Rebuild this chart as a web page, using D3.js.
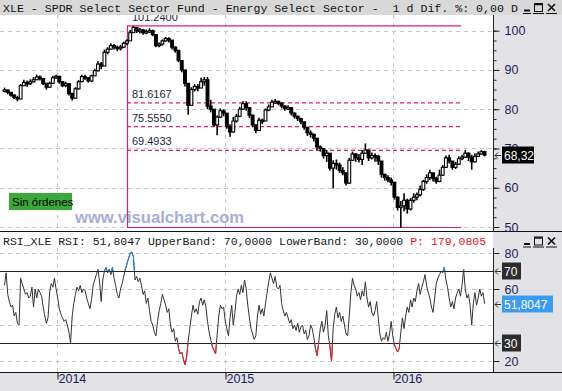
<!DOCTYPE html>
<html>
<head>
<meta charset="utf-8">
<script src="https://cdn.jsdelivr.net/npm/d3@7"></script>
<style>
  body { margin: 0; background: #fff; }
  svg { display: block; }
  svg text { white-space: pre; }
</style>
</head>
<body>
<div id="chart"></div>
<script>
// weekly bars, first week starting 2013-09-09
const firstWeek = "2013-09-09";

const closes = [
  84.9, 84.3, 83.6, 83.0, 82.6, 86.0, 86.8, 86.5, 87.0, 87.5,
  88.2, 87.8, 86.6, 85.6, 86.6, 88.0, 88.4, 87.0, 86.0, 86.5,
  84.0, 82.8, 85.2, 87.0, 88.3, 88.0, 87.2, 88.5, 89.8, 91.5,
  91.0, 94.5, 95.3, 96.2, 95.8, 95.4, 95.8, 96.8, 97.4, 99.5,
  100.8, 100.0, 100.2, 99.5, 99.8, 100.0, 99.0, 96.2, 96.6, 97.4,
  98.0, 97.6, 95.8, 95.0, 92.4, 90.0, 86.6, 81.0, 85.0, 85.8,
  85.4, 87.0, 87.5, 80.8, 80.0, 76.0, 78.0, 79.6, 79.0, 75.6,
  74.2, 77.0, 78.2, 80.0, 81.4, 80.4, 78.5, 76.0, 74.6, 77.2,
  77.0, 79.8, 80.6, 81.8, 82.0, 81.5, 80.8, 80.2, 80.4, 79.0,
  78.2, 77.6, 76.8, 75.4, 74.0, 73.6, 72.6, 70.4, 70.0, 68.2,
  68.8, 65.0, 66.2, 65.8, 64.4, 63.8, 61.2, 67.0, 68.6, 67.6,
  67.2, 68.8, 69.6, 67.6, 68.2, 68.0, 66.8, 63.4, 62.6, 62.0,
  61.4, 57.6, 55.0, 55.4, 56.8, 54.6, 56.8, 57.6, 58.2, 59.6,
  61.6, 62.6, 63.8, 62.4, 61.6, 63.2, 65.2, 67.6, 66.8, 65.2,
  66.0, 67.4, 67.8, 68.8, 67.8, 66.6, 68.0, 68.6, 69.2, 68.32
];

const highs = [
  85.5, 85.0, 84.3, 83.8, 83.4, 86.4, 87.5, 87.3, 87.6, 88.2,
  88.8, 88.6, 87.6, 86.5, 87.0, 88.5, 88.8, 88.2, 87.2, 87.0,
  86.2, 84.2, 85.6, 87.4, 88.8, 88.8, 88.2, 88.8, 90.3, 92.2,
  92.0, 95.2, 95.8, 96.8, 96.6, 96.2, 96.4, 97.2, 97.8, 100.2,
  101.24, 101.0, 100.7, 100.4, 100.3, 100.6, 100.3, 97.8, 97.0, 97.8,
  98.4, 98.3, 97.2, 96.0, 93.8, 92.0, 89.0, 85.0, 85.6, 86.4,
  86.4, 88.0, 88.2, 88.2, 82.4, 80.0, 78.4, 80.2, 80.0, 78.6,
  76.2, 78.0, 78.8, 80.6, 82.0, 82.0, 80.4, 78.6, 76.2, 77.8,
  77.6, 80.2, 81.2, 82.4, 82.6, 82.2, 81.8, 81.0, 81.0, 80.2,
  79.2, 78.4, 77.8, 76.4, 75.2, 74.6, 73.8, 71.6, 70.8, 70.0,
  69.6, 68.6, 67.0, 67.2, 66.4, 65.2, 63.0, 67.6, 69.2, 68.8,
  68.6, 69.6, 71.3, 69.8, 69.0, 68.8, 68.4, 64.2, 63.6, 63.2,
  62.6, 60.6, 57.8, 56.6, 58.6, 57.2, 57.4, 58.6, 58.8, 60.6,
  62.0, 63.4, 64.6, 63.6, 62.8, 64.6, 65.8, 68.2, 68.4, 66.8,
  66.6, 68.0, 68.4, 69.6, 69.0, 68.4, 68.8, 69.2, 69.6, 69.4
];

const lows = [
  84.3, 83.8, 83.2, 82.6, 82.0, 82.8, 86.0, 85.7, 86.2, 86.8,
  87.5, 87.3, 86.2, 85.0, 85.4, 86.8, 87.7, 86.5, 85.6, 85.6,
  83.5, 82.2, 83.0, 85.0, 87.0, 87.5, 86.8, 87.0, 88.6, 89.6,
  90.2, 91.2, 94.0, 95.2, 95.2, 94.8, 95.0, 95.6, 96.3, 97.5,
  99.6, 99.4, 99.3, 99.0, 99.1, 99.4, 98.6, 95.8, 95.8, 96.2,
  97.2, 97.0, 95.2, 94.4, 92.0, 89.4, 85.8, 78.6, 81.5, 84.5,
  84.6, 85.6, 86.0, 80.0, 79.2, 75.6, 73.4, 77.8, 78.2, 75.0,
  73.0, 74.0, 76.6, 78.0, 79.8, 79.6, 77.8, 75.4, 73.9, 75.8,
  76.2, 77.4, 79.5, 81.0, 81.4, 81.0, 80.2, 79.6, 79.8, 78.4,
  77.6, 77.0, 76.2, 74.8, 73.2, 72.8, 71.8, 69.6, 69.2, 67.4,
  66.6, 64.4, 59.8, 64.6, 63.8, 63.2, 60.6, 61.0, 66.8, 66.6,
  66.4, 65.8, 68.6, 66.8, 67.2, 66.6, 65.8, 62.6, 61.8, 61.4,
  60.6, 57.0, 54.2, 49.87, 54.0, 53.4, 54.2, 56.2, 56.8, 57.8,
  59.2, 61.0, 62.0, 61.6, 61.0, 61.4, 63.0, 65.0, 66.2, 64.6,
  64.8, 65.8, 67.0, 67.6, 66.8, 64.6, 66.4, 67.8, 68.4, 68.0
];

// RSI read twice a week (every 3.5 days) from the same start
const rsiValues = [
  62, 69, 57, 53, 50, 51, 45, 47, 41, 40,
  66, 63, 60, 57, 58, 55, 56, 61, 50, 60,
  55, 60, 58, 56, 50, 45, 41, 44, 58, 63,
  61, 66, 60, 55, 49, 46, 44, 42, 43, 40,
  36, 30, 45, 52, 57, 61, 59, 62, 58, 60,
  59, 55, 52, 49, 54, 62, 65, 68, 71, 64,
  53, 65, 70, 72, 69, 71, 68, 72, 66, 62,
  57, 55, 60, 63, 67, 71, 74, 77, 80, 80.5,
  78, 65, 67, 64, 66, 62, 57, 59, 52, 55,
  48, 42, 40, 36, 34, 42, 48, 52, 57, 54,
  51, 47, 49, 40, 36, 38, 31, 33, 27, 24,
  25, 21, 18, 22, 31, 38, 45, 51, 47, 49,
  46, 53, 55, 51, 54, 50, 42, 36, 32, 28,
  26, 24, 35, 45, 51, 49, 50, 42, 38, 34,
  44, 51, 40, 47, 56, 60, 57, 62, 58, 65,
  60, 51, 44, 38, 35, 32, 34, 45, 51, 46,
  49, 45, 52, 58, 64, 69, 66, 63, 67, 61,
  60, 62, 52, 48, 45, 47, 44, 41, 43, 38,
  40, 37, 41, 36, 39, 40, 35, 37, 32, 34,
  40, 38, 33, 27, 23, 30, 38, 42, 36, 40,
  48, 34, 28, 20, 38, 46, 50, 44, 47, 42,
  45, 40, 35, 34, 45, 58, 66, 62, 60, 56,
  58, 54, 59, 56, 64, 55, 50, 53, 47, 45,
  48, 53, 44, 35, 31, 33, 32, 36, 31, 35,
  42, 34, 29, 27, 25, 27, 36, 44, 38, 45,
  50, 47, 54, 50, 55, 53, 59, 63, 57, 61,
  64, 68, 62, 58, 55, 50, 47, 55, 63, 66,
  68, 70, 69, 72, 65, 61, 55, 50, 53, 49,
  55, 58, 60, 56, 62, 71, 60, 55, 57, 51,
  40, 52, 58, 51, 55, 60, 56, 58, 51.8047
];

const fibHigh = 101.24;
const fibLow = 49.87;
const fibRatios = [0.382, 0.5, 0.618];
const fibFrom = "2014-06-02";
const fibTo = "2016-05-28";

const priceTicks = [50, 60, 70, 80, 90, 100];
const rsiGridTicks = [20, 40, 60, 80];
const rsiLabelTicks = [20, 60, 80];
const rsiBands = [30, 70];

const titleText = "XLE - SPDR Select Sector Fund - Energy Select Sector -  1 d Dif. %: 0,00 D";
const rsiHeader = "RSI_XLE RSI: 51,8047 UpperBand: 70,0000 LowerBand: 30,0000 ";
const rsiHeaderP = "P: 179,0805";

const W = 562, H = 391;
const plotW = 493;
const mainTop = 15, mainBottom = 231;
const rsiHeadTop = 232, rsiTop = 248, rsiBottom = 372;

const navy = "#1c1c58";
const pink = "#e8177c";
const gridColor = "#c6c6d0";
const sans = "'Liberation Sans', Arial, sans-serif";
const mono = "'Liberation Mono', 'Courier New', monospace";

const parse = d3.timeParse("%Y-%m-%d");
const start = parse(firstWeek);

const bars = closes.map((c, i) => ({
  date: d3.timeDay.offset(start, 7 * i),
  open: i ? closes[i - 1] : c,
  close: c,
  high: highs[i],
  low: lows[i]
}));
const rsiData = rsiValues.map((v, j) => ({ date: d3.timeHour.offset(start, 84 * j), v }));

const x = d3.scaleTime()
  .domain([new Date(2014, 0, 1), new Date(2016, 0, 1)])
  .range([57, 393]);
const yP = d3.scaleLinear().domain([50, 100]).range([227, 30.7]);
const yR = d3.scaleLinear().domain([30, 70]).range([343, 271]);

const svg = d3.select("#chart").append("svg")
  .attr("width", W).attr("height", H);

// backgrounds
svg.append("rect").attr("width", W).attr("height", H).attr("fill", "#e3e3e7");
svg.append("rect").attr("x", 0).attr("y", mainTop).attr("width", plotW).attr("height", mainBottom - mainTop).attr("fill", "#fff");
svg.append("rect").attr("x", 0).attr("y", rsiHeadTop).attr("width", plotW).attr("height", rsiBottom - rsiHeadTop).attr("fill", "#fff");

const defs = svg.append("defs");
defs.append("clipPath").attr("id", "clipMain").append("rect")
  .attr("x", 0).attr("y", mainTop).attr("width", plotW).attr("height", mainBottom - mainTop);
defs.append("clipPath").attr("id", "clipRsi").append("rect")
  .attr("x", 0).attr("y", rsiTop).attr("width", plotW).attr("height", rsiBottom - rsiTop);
defs.append("clipPath").attr("id", "clipHigh").append("rect")
  .attr("x", 0).attr("y", rsiTop - 10).attr("width", plotW).attr("height", yR(70) - rsiTop + 10);
defs.append("clipPath").attr("id", "clipLow").append("rect")
  .attr("x", 0).attr("y", yR(30)).attr("width", plotW).attr("height", rsiBottom - yR(30));

const years = x.ticks(d3.timeYear.every(1));

// ---------- main price panel ----------
const gMain = svg.append("g").attr("clip-path", "url(#clipMain)");

gMain.selectAll("line.hgrid").data(priceTicks).join("line")
  .attr("x1", 0).attr("x2", plotW)
  .attr("y1", d => Math.round(yP(d)) + 0.5).attr("y2", d => Math.round(yP(d)) + 0.5)
  .attr("stroke", gridColor).attr("stroke-dasharray", "4,4");
gMain.selectAll("line.vgrid").data(years).join("line")
  .attr("x1", d => Math.round(x(d)) + 0.5).attr("x2", d => Math.round(x(d)) + 0.5)
  .attr("y1", mainTop).attr("y2", mainBottom)
  .attr("stroke", gridColor).attr("stroke-dasharray", "4,4");

// watermark + order status
gMain.append("text").attr("x", 75).attr("y", 223)
  .attr("font-family", sans).attr("font-weight", "bold").attr("font-size", 16.6)
  .attr("fill", "#a6aed8").text("www.visualchart.com");
gMain.append("rect").attr("x", 9).attr("y", 193).attr("width", 63).attr("height", 17)
  .attr("fill", "#3aa83a");
gMain.append("text").attr("x", 12).attr("y", 205.5)
  .attr("font-family", sans).attr("font-size", 11.5).attr("fill", "#000").text("Sin órdenes");

// fibonacci retracement
const fx0 = x(parse(fibFrom)), fx1 = x(parse(fibTo));
const fibLevels = fibRatios.map(r => fibHigh - r * (fibHigh - fibLow));
gMain.append("line").attr("x1", Math.round(fx0) + 0.5).attr("x2", Math.round(fx0) + 0.5)
  .attr("y1", yP(fibHigh)).attr("y2", yP(fibLow)).attr("stroke", pink).attr("stroke-width", 1.2);
gMain.selectAll("line.fibSolid").data([fibHigh, fibLow]).join("line")
  .attr("x1", fx0).attr("x2", fx1)
  .attr("y1", d => yP(d)).attr("y2", d => yP(d))
  .attr("stroke", pink).attr("stroke-width", 1.2);
gMain.selectAll("line.fibDash").data(fibLevels).join("line")
  .attr("x1", fx0).attr("x2", fx1)
  .attr("y1", d => yP(d)).attr("y2", d => yP(d))
  .attr("stroke", pink).attr("stroke-width", 1.2).attr("stroke-dasharray", "4,3");
gMain.selectAll("text.fib").data([fibHigh].concat(fibLevels)).join("text")
  .attr("x", fx0 + 5).attr("y", d => yP(d) - 5)
  .attr("font-family", sans).attr("font-size", 11).attr("fill", "#1e1e3c")
  .text(d => d.toFixed(4));

// weekly candles
const gBar = gMain.selectAll("g.bar").data(bars).join("g");
gBar.append("line")
  .attr("x1", d => x(d.date)).attr("x2", d => x(d.date))
  .attr("y1", d => yP(d.high)).attr("y2", d => yP(d.low))
  .attr("stroke", "#000").attr("stroke-width", 1.6);
gBar.append("rect")
  .attr("x", d => x(d.date) - 1.4).attr("width", 2.8)
  .attr("y", d => yP(Math.max(d.open, d.close)))
  .attr("height", d => Math.max(1.5, Math.abs(yP(d.open) - yP(d.close))))
  .attr("fill", d => d.close >= d.open ? "#fff" : "#000")
  .attr("stroke", "#000").attr("stroke-width", 1.1);

// ---------- RSI panel ----------
const gRsi = svg.append("g").attr("clip-path", "url(#clipRsi)");
gRsi.selectAll("line.hgrid").data(rsiGridTicks).join("line")
  .attr("x1", 0).attr("x2", plotW)
  .attr("y1", d => Math.round(yR(d)) + 0.5).attr("y2", d => Math.round(yR(d)) + 0.5)
  .attr("stroke", gridColor).attr("stroke-dasharray", "4,4");
gRsi.selectAll("line.vgrid").data(years).join("line")
  .attr("x1", d => Math.round(x(d)) + 0.5).attr("x2", d => Math.round(x(d)) + 0.5)
  .attr("y1", rsiTop).attr("y2", rsiBottom)
  .attr("stroke", gridColor).attr("stroke-dasharray", "4,4");
gRsi.selectAll("line.band").data(rsiBands).join("line")
  .attr("x1", 0).attr("x2", plotW)
  .attr("y1", d => Math.round(yR(d)) + 0.5).attr("y2", d => Math.round(yR(d)) + 0.5)
  .attr("stroke", "#222").attr("stroke-width", 1);

const rsiLine = d3.line().x(d => x(d.date)).y(d => yR(d.v));
gRsi.append("path").datum(rsiData).attr("d", rsiLine)
  .attr("fill", "none").attr("stroke", "#333").attr("stroke-width", 1);
svg.append("path").datum(rsiData).attr("d", rsiLine).attr("clip-path", "url(#clipHigh)")
  .attr("fill", "none").attr("stroke", "#2a80dc").attr("stroke-width", 1);
svg.append("path").datum(rsiData).attr("d", rsiLine).attr("clip-path", "url(#clipLow)")
  .attr("fill", "none").attr("stroke", "#ee2020").attr("stroke-width", 1);

// RSI header text
svg.append("text").attr("x", 3).attr("y", 244.5)
  .attr("font-family", mono).attr("font-size", 11.5).attr("fill", "#1a1a1a")
  .text(rsiHeader)
  .append("tspan").attr("fill", "#e8141e").text(rsiHeaderP);

// ---------- frame lines ----------
svg.append("line").attr("x1", 0).attr("x2", W).attr("y1", 231.5).attr("y2", 231.5).attr("stroke", "#111");
svg.append("line").attr("x1", 0).attr("x2", W).attr("y1", rsiBottom + 0.5).attr("y2", rsiBottom + 0.5).attr("stroke", "#111");
svg.append("line").attr("x1", plotW + 0.5).attr("x2", plotW + 0.5).attr("y1", mainTop).attr("y2", mainBottom).attr("stroke", "#222");
svg.append("line").attr("x1", plotW + 0.5).attr("x2", plotW + 0.5).attr("y1", rsiTop).attr("y2", rsiBottom).attr("stroke", "#222");

// ---------- price axis ----------
function styleAxis(g, size) {
  g.select(".domain").remove();
  g.selectAll(".tick line").attr("stroke", "#222");
  g.selectAll(".tick text").attr("fill", navy);
  g.attr("font-family", sans).attr("font-size", size);
}
svg.append("g").attr("transform", `translate(${plotW + 0.5},0)`)
  .call(d3.axisRight(yP).tickValues(d3.range(50, 101, 2.5)).tickSize(3).tickFormat(""))
  .call(g => styleAxis(g, 12));
svg.append("g").attr("transform", `translate(${plotW + 0.5},0)`)
  .call(d3.axisRight(yP).tickValues(priceTicks).tickSize(6).tickPadding(5))
  .call(g => styleAxis(g, 12.5));

function arrow(y) {
  svg.append("path").attr("d", `M501,${y}H495M498,${y - 3}L495,${y}L498,${y + 3}`)
    .attr("fill", "none").attr("stroke", "#333").attr("stroke-width", 1);
}
function valueBox(v, label, bg, w) {
  const yy = Math.round(v);
  svg.append("rect").attr("x", 502).attr("y", yy - 8.5).attr("width", w).attr("height", 17).attr("fill", bg);
  svg.append("text").attr("x", 504).attr("y", yy + 4.5)
    .attr("font-family", sans).attr("font-size", 12).attr("fill", "#fff").text(label);
  arrow(yy + 0.5);
}
const lastClose = closes[closes.length - 1];
valueBox(yP(lastClose), d3.format(".2f")(lastClose).replace(".", ","), "#000", 32);

// ---------- RSI axis ----------
svg.append("g").attr("transform", `translate(${plotW + 0.5},0)`)
  .call(d3.axisRight(yR).tickValues(rsiLabelTicks).tickSize(6).tickPadding(5))
  .call(g => styleAxis(g, 12.5));
rsiBands.forEach(b => valueBox(yR(b), String(b), "#2c2c2c", 19));
const rsiLast = rsiValues[rsiValues.length - 1];
valueBox(yR(rsiLast), d3.format(".4f")(rsiLast).replace(".", ","), "#3a9cf0", 51);

// ---------- time axis ----------
svg.append("g").attr("transform", `translate(0,${rsiBottom + 0.5})`)
  .call(d3.axisBottom(x).ticks(d3.timeYear.every(1)).tickFormat(d3.timeFormat("%Y")).tickSize(7).tickPadding(2))
  .call(g => {
    styleAxis(g, 12.5);
    g.selectAll(".tick line").attr("stroke", "#111").attr("transform", "translate(0.5,0)");
    g.selectAll(".tick text").attr("text-anchor", "start").attr("x", 1).attr("dy", "0.1em");
  });

// ---------- title bar + window buttons ----------
svg.append("rect").attr("width", W).attr("height", mainTop).attr("fill", "#d8d8d8");
svg.append("text").attr("x", 3).attr("y", 11.5)
  .attr("font-family", mono).attr("font-size", 11.6).attr("fill", "#111").text(titleText);

function winButtons(y0) {
  const g = svg.append("g").attr("transform", `translate(520,${y0})`)
    .attr("fill", "none").attr("stroke", "#111");
  g.append("path").attr("d", "M4,8.5H10").attr("stroke-width", 2);
  g.append("rect").attr("x", 14.5).attr("y", 1.5).attr("width", 8).attr("height", 8);
  g.append("path").attr("d", "M14.5,2.5H22.5").attr("stroke-width", 1.5);
  g.append("path").attr("d", "M28,2L35,9M35,2L28,9").attr("stroke-width", 1.6);
  g.append("path").attr("d", "M3,11.5H11M13,11.5H24M26,11.5H37").attr("stroke-width", 1);
}
winButtons(2);
winButtons(235.5);
</script>
</body>
</html>
